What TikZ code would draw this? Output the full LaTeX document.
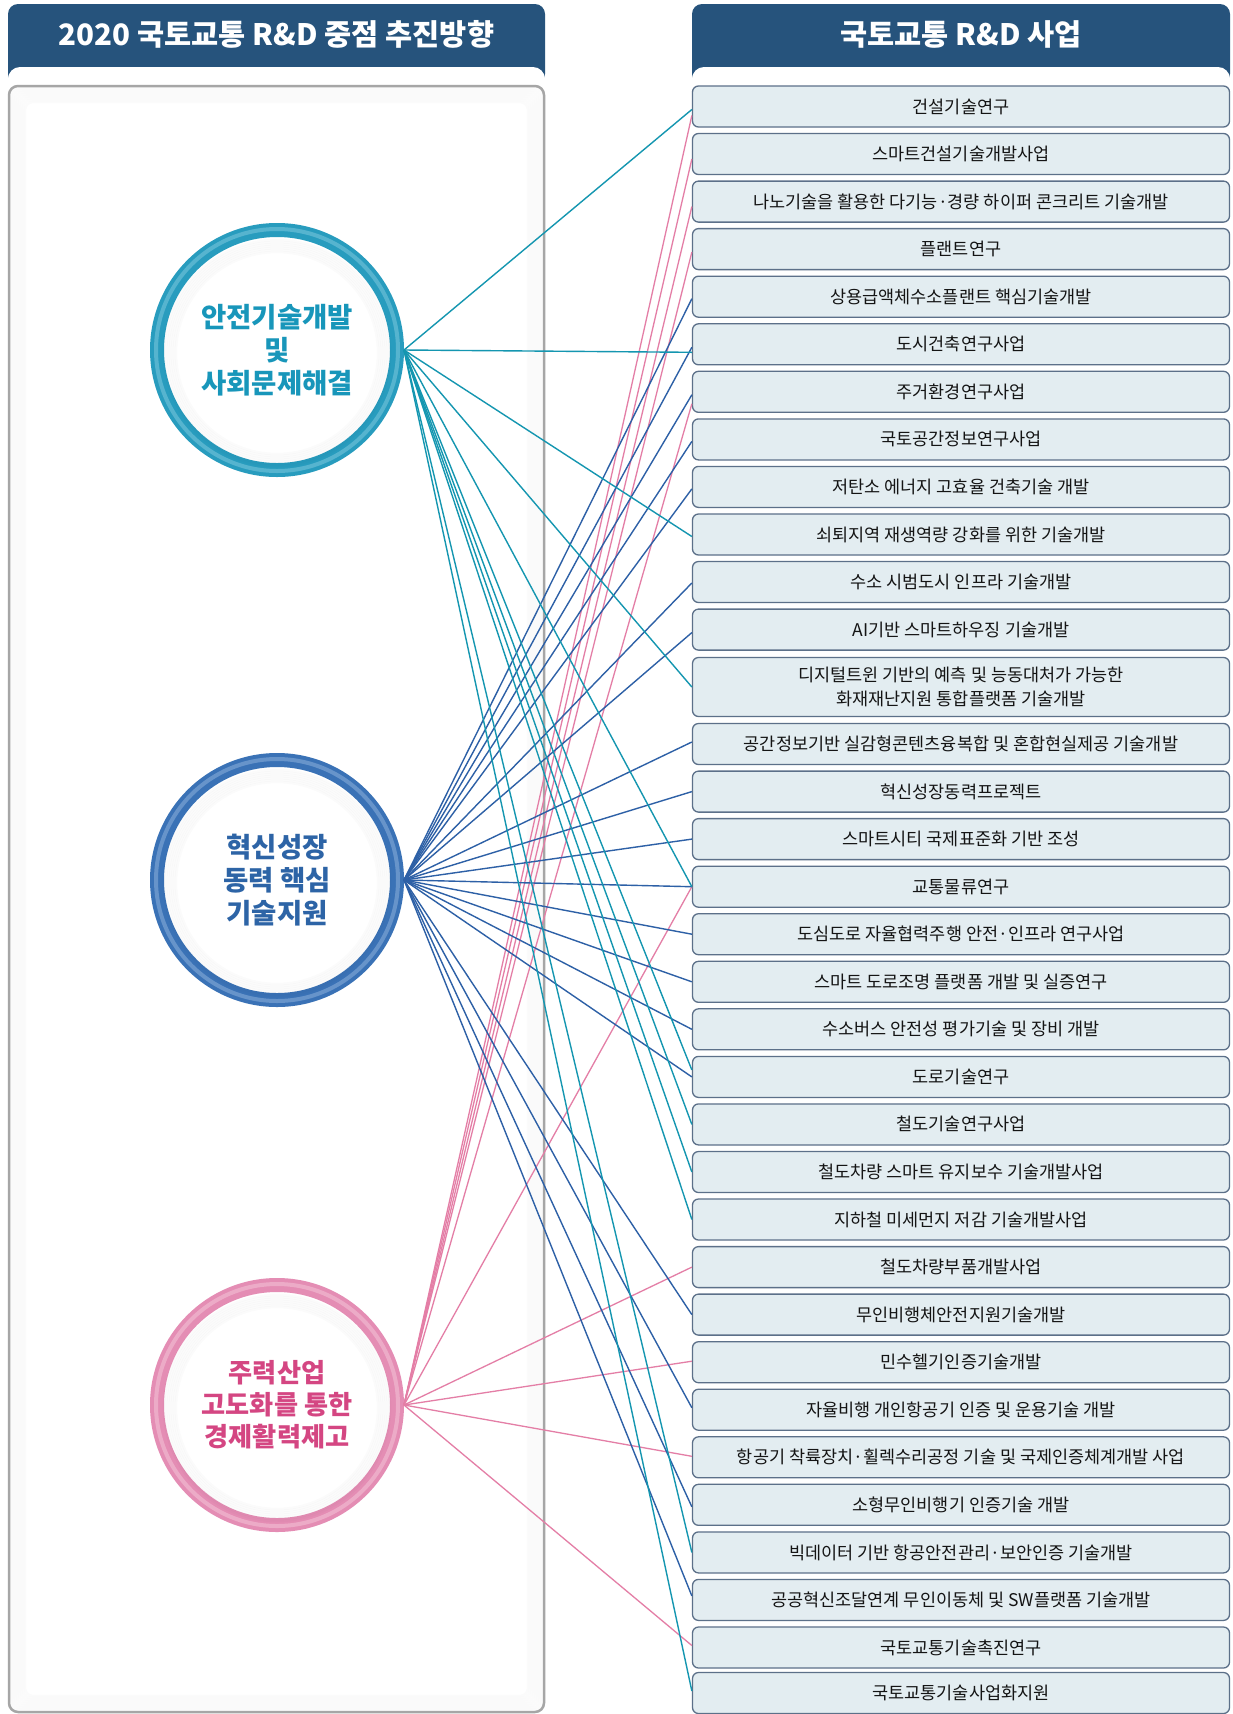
\documentclass[tikz,border=0pt]{standalone}
\usepackage{fontspec}
\setmainfont{Noto Sans CJK KR}
\usetikzlibrary{calc}
\definecolor{hdr}{RGB}{38,83,124}
\definecolor{boxfill}{RGB}{227,237,241}
\definecolor{boxline}{RGB}{92,112,137}
\definecolor{boxtext}{RGB}{20,20,20}
\definecolor{tealring}{RGB}{40,156,190}
\definecolor{tealhi}{RGB}{125,200,222}
\definecolor{tealtext}{RGB}{24,150,186}
\definecolor{tealline}{RGB}{20,150,176}
\definecolor{bluering}{RGB}{58,114,182}
\definecolor{bluehi}{RGB}{140,176,220}
\definecolor{bluetext}{RGB}{45,100,166}
\definecolor{blueline}{RGB}{45,96,166}
\definecolor{pinkring}{RGB}{228,141,180}
\definecolor{pinkhi}{RGB}{244,196,216}
\definecolor{pinktext}{RGB}{212,70,130}
\definecolor{pinkline}{RGB}{228,126,166}
\begin{document}
\begin{tikzpicture}[x=1pt,y=-1pt,
  ringnode/.style={circle, minimum size=240pt, line width=14pt, fill=white, align=center,
    font=\bfseries\fontsize{27.5}{33}\selectfont, inner sep=0pt},
  box/.style={draw=boxline, fill=boxfill, rounded corners=6pt, line width=1.3pt,
    minimum width=537pt, minimum height=41pt, inner sep=0pt, align=center,
    font=\fontsize{17.5}{24}\selectfont, text=boxtext},
  tl/.style={line width=1.4pt, draw=tealline},
  bl/.style={line width=1.4pt, draw=blueline},
  pl/.style={line width=1.3pt, draw=pinkline},
  hdrtext/.style={text=white, font=\bfseries\fontsize{29.5}{31}\selectfont},
  glow/.style={draw=black, opacity=0.016, line width=2.5pt}]
\useasboundingbox (0,0) rectangle (1232,1714);
\fill[white] (0,0) rectangle (1232,1714);

% headers
\fill[hdr, rounded corners=10pt] (8,4) rectangle (545,84);
\fill[white, rounded corners=12pt] (8,67) rectangle (545,95);
\node[hdrtext] (h1) at (276.5,34) {2020 국토교통 R\&D 중점 추진방향};
\fill[hdr, rounded corners=10pt] (692,4) rectangle (1230,84);
\fill[white, rounded corners=12pt] (692,67) rectangle (1230,95);
\node[hdrtext] (h2) at (961,34) {국토교통 R\&D 사업};

% left panel
\fill[white, rounded corners=9pt] (9,86) rectangle (544,1712);
\foreach \k in {1,...,8}
  \draw[glow, rounded corners=8pt] ({9+2*\k},{86+2*\k}) rectangle ({544-2*\k},{1712-2*\k});
\draw[draw=gray!70, line width=2.5pt, rounded corners=9pt] (9,86) rectangle (544,1712);

% circles
\node[ringnode, draw=tealring, text=tealtext] (c1) at (277,350) {안전기술개발\\및\\사회문제해결};
\node[ringnode, draw=bluering, text=bluetext] (c2) at (277,880) {혁신성장\\동력 핵심\\기술지원};
\node[ringnode, draw=pinkring, text=pinktext, font=\bfseries\fontsize{26.2}{32}\selectfont] (c3) at (277,1405) {주력산업\\고도화를 통한\\경제활력제고};
\foreach \c/\h in {c1/tealhi, c2/bluehi, c3/pinkhi}{
  \draw[\h, line width=4pt, opacity=0.55] (\c.center) circle (121pt);
  \foreach \k [evaluate=\k as \r using 113-2*\k] in {0,...,6}
    \draw[glow] ($(\c.center)+(0,3)$) circle (\r pt);
}

% boxes
\node[box] (b1) at (961,106.5) {건설기술연구};
\node[box] (b2) at (961,154.0) {스마트건설기술개발사업};
\node[box] (b3) at (961,201.6) {나노기술을 활용한 다기능·경량 하이퍼 콘크리트 기술개발};
\node[box] (b4) at (961,249.1) {플랜트연구};
\node[box] (b5) at (961,296.7) {상용급액체수소플랜트 핵심기술개발};
\node[box] (b6) at (961,344.3) {도시건축연구사업};
\node[box] (b7) at (961,391.8) {주거환경연구사업};
\node[box] (b8) at (961,439.4) {국토공간정보연구사업};
\node[box] (b9) at (961,486.9) {저탄소 에너지 고효율 건축기술 개발};
\node[box] (b10) at (961,534.5) {쇠퇴지역 재생역량 강화를 위한 기술개발};
\node[box] (b11) at (961,582.0) {수소 시범도시 인프라 기술개발};
\node[box] (b12) at (961,629.6) {AI기반 스마트하우징 기술개발};
\node[box, minimum height=59pt] (b13) at (961,687) {디지털트윈 기반의 예측 및 능동대처가 가능한\\화재재난지원 통합플랫폼 기술개발};
\node[box] (b14) at (961,744.0) {공간정보기반 실감형콘텐츠융복합 및 혼합현실제공 기술개발};
\node[box] (b15) at (961,791.6) {혁신성장동력프로젝트};
\node[box] (b16) at (961,839.1) {스마트시티 국제표준화 기반 조성};
\node[box] (b17) at (961,886.7) {교통물류연구};
\node[box] (b18) at (961,934.2) {도심도로 자율협력주행 안전·인프라 연구사업};
\node[box] (b19) at (961,981.8) {스마트 도로조명 플랫폼 개발 및 실증연구};
\node[box] (b20) at (961,1029.3) {수소버스 안전성 평가기술 및 장비 개발};
\node[box] (b21) at (961,1076.9) {도로기술연구};
\node[box] (b22) at (961,1124.4) {철도기술연구사업};
\node[box] (b23) at (961,1172.0) {철도차량 스마트 유지보수 기술개발사업};
\node[box] (b24) at (961,1219.5) {지하철 미세먼지 저감 기술개발사업};
\node[box] (b25) at (961,1267.1) {철도차량부품개발사업};
\node[box] (b26) at (961,1314.6) {무인비행체안전지원기술개발};
\node[box] (b27) at (961,1362.2) {민수헬기인증기술개발};
\node[box] (b28) at (961,1409.7) {자율비행 개인항공기 인증 및 운용기술 개발};
\node[box] (b29) at (961,1457.3) {항공기 착륙장치·휠렉수리공정 기술 및 국제인증체계개발 사업};
\node[box] (b30) at (961,1504.8) {소형무인비행기 인증기술 개발};
\node[box] (b31) at (961,1552.4) {빅데이터 기반 항공안전관리·보안인증 기술개발};
\node[box] (b32) at (961,1599.9) {공공혁신조달연계 무인이동체 및 SW플랫폼 기술개발};
\node[box] (b33) at (961,1647.5) {국토교통기술촉진연구};
\node[box] (b34) at (961,1693.0) {국토교통기술사업화지원};

% connectors
\foreach \b/\d in {1/9, 2/5, 3/5, 4/3, 7/12, 17/0, 25/0, 27/-1, 29/-1, 33/-2}
  \draw[pl] (c3.east) -- ($(b\b.west)+(0,\d)$);
\foreach \b/\d in {5/2, 6/3, 7/3, 8/2, 9/2, 11/1, 12/3, 14/-2, 15/0, 16/0, 17/0, 18/0, 19/0, 20/0, 21/0, 26/0, 28/-2, 30/2, 32/-4}
  \draw[bl] (c2.east) -- ($(b\b.west)+(0,\d)$);
\foreach \b/\d in {1/3, 6/8, 10/2, 13/0, 17/0, 21/-7, 22/0, 23/0, 24/0, 31/0, 34/-2}
  \draw[tl] (c1.east) -- ($(b\b.west)+(0,\d)$);
\end{tikzpicture}
\end{document}
